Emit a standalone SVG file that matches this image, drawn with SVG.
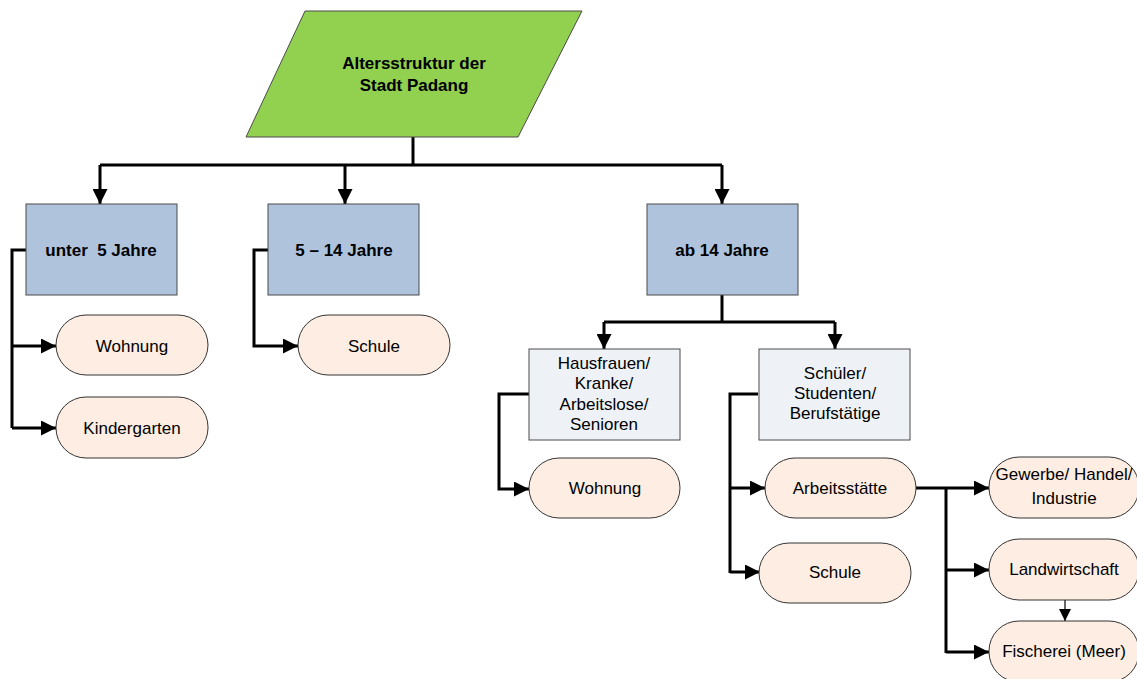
<svg xmlns="http://www.w3.org/2000/svg" width="1137" height="679" viewBox="0 0 1137 679">
<defs>
<style>
.t{font-family:"Liberation Sans",Arial,sans-serif;font-size:17px;fill:#000;text-anchor:middle}
.b{font-weight:bold}
.main{fill:#B0C3DC;stroke:#4a4a4a;stroke-width:1}
.sub{fill:#EEF2F7;stroke:#4a4a4a;stroke-width:1}
.pill{fill:#FDEDE2;stroke:#333;stroke-width:1}
.c{fill:none;stroke:#000;stroke-width:3}
.thin{fill:none;stroke:#000;stroke-width:1.2}
</style>
<marker id="ah" viewBox="0 0 10 10" refX="10" refY="5" markerWidth="5" markerHeight="5" markerUnits="strokeWidth" orient="auto"><path d="M0,0 L10,5 L0,10 z" fill="#000"/></marker>
<marker id="ahs" viewBox="0 0 10 10" refX="10" refY="5" markerWidth="10" markerHeight="10" markerUnits="strokeWidth" orient="auto"><path d="M0,0 L10,5 L0,10 z" fill="#000"/></marker>
</defs>
<g id="connectors">
<path class="c" d="M413,137 V165"/>
<path class="c" d="M100,165 H722"/>
<path class="c" d="M100,165 V204" marker-end="url(#ah)"/>
<path class="c" d="M345,165 V204" marker-end="url(#ah)"/>
<path class="c" d="M722,165 V204" marker-end="url(#ah)"/>
<path class="c" d="M26,250 H12 V428"/>
<path class="c" d="M12,346 H56" marker-end="url(#ah)"/>
<path class="c" d="M12,428 H56" marker-end="url(#ah)"/>
<path class="c" d="M268,250 H254 V346 H298" marker-end="url(#ah)"/>
<path class="c" d="M722,295 V322"/>
<path class="c" d="M604,322 H835"/>
<path class="c" d="M604,322 V349" marker-end="url(#ah)"/>
<path class="c" d="M835,322 V349" marker-end="url(#ah)"/>
<path class="c" d="M529,394 H499 V489 H529" marker-end="url(#ah)"/>
<path class="c" d="M758,394 H730 V573"/>
<path class="c" d="M730,488 H765" marker-end="url(#ah)"/>
<path class="c" d="M730,572 H760" marker-end="url(#ah)"/>
<path class="c" d="M916,488 H989" marker-end="url(#ah)"/>
<path class="c" d="M946,488 V653"/>
<path class="c" d="M946,570 H989" marker-end="url(#ah)"/>
<path class="c" d="M946,652 H989" marker-end="url(#ah)"/>
<path class="thin" d="M1065,600 V621" marker-end="url(#ahs)"/>
</g>
<g id="root">
<polygon points="305,11 582,11 518,137 246,137" fill="#92D050" stroke="#4a4a4a" stroke-width="1"/>
<text class="t b" x="414" y="69">Altersstruktur der</text>
<text class="t b" x="414" y="91">Stadt Padang</text>
</g>
<g id="n-unter5">
<rect class="main" x="26" y="204" width="151" height="91"/>
<text class="t b" x="101" y="256" xml:space="preserve">unter  5 Jahre</text>
</g>
<g id="n-5-14">
<rect class="main" x="268" y="204" width="151" height="91"/>
<text class="t b" x="344" y="256">5 – 14 Jahre</text>
</g>
<g id="n-ab14">
<rect class="main" x="647" y="204" width="151" height="91"/>
<text class="t b" x="722" y="256">ab 14 Jahre</text>
</g>
<g id="p-wohnung1">
<rect class="pill" x="56" y="315" width="152" height="60" rx="30"/>
<text class="t" x="132" y="352">Wohnung</text>
</g>
<g id="p-kindergarten">
<rect class="pill" x="56" y="397" width="152" height="61" rx="30"/>
<text class="t" x="132" y="434">Kindergarten</text>
</g>
<g id="p-schule1">
<rect class="pill" x="298" y="315" width="152" height="60" rx="30"/>
<text class="t" x="374" y="352">Schule</text>
</g>
<g id="n-hausfrauen">
<rect class="sub" x="529" y="349" width="151" height="91"/>
<text class="t" x="604" y="369">Hausfrauen/</text>
<text class="t" x="604" y="389">Kranke/</text>
<text class="t" x="604" y="410">Arbeitslose/</text>
<text class="t" x="604" y="430">Senioren</text>
</g>
<g id="n-schueler">
<rect class="sub" x="759" y="349" width="151" height="91"/>
<text class="t" x="835" y="379">Schüler/</text>
<text class="t" x="835" y="399">Studenten/</text>
<text class="t" x="835" y="419">Berufstätige</text>
</g>
<g id="p-wohnung2">
<rect class="pill" x="529" y="458" width="151" height="60" rx="30"/>
<text class="t" x="605" y="494">Wohnung</text>
</g>
<g id="p-arbeitsstaette">
<rect class="pill" x="765" y="458" width="151" height="60" rx="30"/>
<text class="t" x="840" y="494">Arbeitsstätte</text>
</g>
<g id="p-schule2">
<rect class="pill" x="759" y="543" width="152" height="60" rx="30"/>
<text class="t" x="835" y="578">Schule</text>
</g>
<g id="p-gewerbe">
<rect class="pill" x="989" y="457" width="150" height="61" rx="30"/>
<text class="t" x="1064" y="480">Gewerbe/ Handel/</text>
<text class="t" x="1064" y="504">Industrie</text>
</g>
<g id="p-landwirtschaft">
<rect class="pill" x="989" y="539" width="150" height="61" rx="30"/>
<text class="t" x="1064" y="575">Landwirtschaft</text>
</g>
<g id="p-fischerei">
<rect class="pill" x="989" y="621" width="150" height="61" rx="30"/>
<text class="t" x="1064" y="657">Fischerei (Meer)</text>
</g>
</svg>
